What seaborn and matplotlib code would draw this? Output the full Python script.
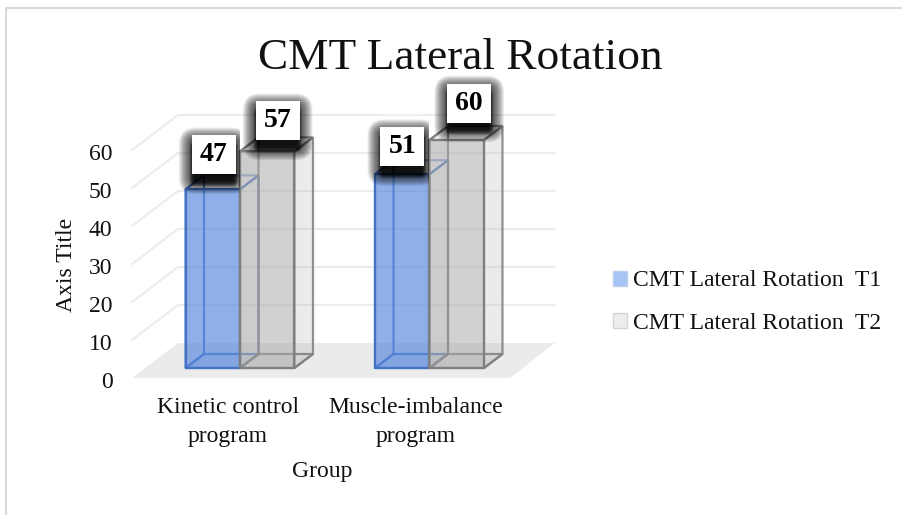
import numpy as np
import pandas as pd
import matplotlib
matplotlib.use("Agg")
import matplotlib.pyplot as plt
from matplotlib.colors import to_rgba
from matplotlib.patches import Patch, Polygon, Rectangle, FancyBboxPatch
from matplotlib.transforms import Affine2D, Bbox
from matplotlib.lines import Line2D
import seaborn as sns

# data
groups = ["Kinetic control\nprogram", "Muscle-imbalance\nprogram"]
series = ["CMT Lateral Rotation  T1", "CMT Lateral Rotation  T2"]
t1_values = [47, 51]
t2_values = [57, 60]
y_ticks = [0, 10, 20, 30, 40, 50, 60]

# label boxes were dragged by hand in the original, pixel offset from bar top centre
label_offsets = [(1, 34.5), (0, 27.5), (10.5, 30.5), (12.5, 37)]

df = pd.DataFrame({
    "Group": groups * 2,
    "Series": [series[0]] * 2 + [series[1]] * 2,
    "Value": t1_values + t2_values,
})

sns.set_theme(style="white")
plt.rcParams["font.family"] = ["Liberation Serif", "DejaVu Serif"]

W, H = 903, 515
fig = plt.figure(figsize=(W / 100, H / 100), dpi=100, facecolor="white")
ax = fig.add_axes([145.25 / W, (H - 368) / H, 379 / W, 228 / H])
ax.patch.set_alpha(0)

BLUE_FACE = "#5585DC"
BLUE_EDGE = "#4472C4"
GRAY_FACE = "#A5A5A5"
GRAY_EDGE = "#7F7F7F"
TEXT = "#111111"
FS = 17

sns.barplot(data=df, x="Group", y="Value", hue="Series", order=groups,
            palette=[BLUE_FACE, GRAY_FACE], saturation=1, width=0.575, gap=0,
            legend=False, ax=ax)
ax.set_xlim(-0.5, 1.5)
ax.set_ylim(0, 60)
for s in ax.spines.values():
    s.set_visible(False)

to_px = ax.transData.transform
inv = ax.transData.inverted()

# floor and walls, in pixels off the data scale
base = to_px((0, 0))[1]
xl = inv.transform((132, base))[0]
xr = inv.transform((510, base))[0]
FRONT = np.array([0, -10])
BACK_L = np.array([46, 25])
BACK_R = np.array([45, 25])
floor = [to_px((xl, 0)) + FRONT, to_px((xr, 0)) + FRONT, to_px((xr, 0)) + BACK_R, to_px((xl, 0)) + BACK_L]
fig.add_artist(Polygon(floor, closed=True, transform=None, facecolor="#EBEBEB", edgecolor="none", zorder=0))
for t in y_ticks[1:]:
    p = np.array([to_px((xl, t)) + FRONT, to_px((xl, t)) + BACK_L, to_px((xr, t)) + BACK_R])
    fig.add_artist(Line2D(p[:, 0], p[:, 1], transform=None, color="#EDEDED", lw=1.6, zorder=0))

# 3d faces from the bars seaborn drew
styles = [
    dict(color=BLUE_FACE, edge=BLUE_EDGE, front=0.65, right=0.0, left=0.0, bottom=0.12, top_line=0.55),
    dict(color=GRAY_FACE, edge=GRAY_EDGE, front=0.5, right=0.22, left=0.1, bottom=0.1, top_line=0.85),
]
d = np.array([18.5, 14])
for cont, st, z in zip(ax.containers, styles, [2, 6]):
    ec = to_rgba(st["edge"], 0.85)
    for bar in cont:
        xa, xb = bar.get_x(), bar.get_x() + bar.get_width()
        h = bar.get_height()
        bar.set_alpha(None)
        bar.set_facecolor(to_rgba(st["color"], st["front"]))
        bar.set_edgecolor(st["edge"])
        bar.set_linewidth(1.6)
        bar.set_zorder(z + 1)
        bar.set_clip_on(False)
        fa, fb = to_px((xa, 0)), to_px((xb, 0))
        ta, tb = to_px((xa, h)), to_px((xb, h))
        faces = [([fb, fb + d, tb + d, tb], st["right"], ec),
                 ([fa, fa + d, ta + d, ta], st["left"], ec),
                 ([fa, fb, fb + d, fa + d], st["bottom"], ec),
                 ([ta, tb, tb + d, ta + d], 0.0, to_rgba(st["edge"], st["top_line"]))]
        for pts, alpha, line in faces:
            ax.add_patch(Polygon(pts, closed=True, transform=None, facecolor=to_rgba(st["color"], alpha),
                                 edgecolor=line, lw=1.6, zorder=z, clip_on=False))

# data labels with the heavy shadow, the T1 shadows stop at the T2 bar
bars = list(ax.containers[0]) + list(ax.containers[1])
BW, BH = 44, 39
for i, (bar, (ox, oy)) in enumerate(zip(bars, label_offsets)):
    cx, cy = to_px((bar.get_x() + bar.get_width() / 2, bar.get_height())) + np.array([ox, oy])
    layers = [(g, 0.04, 3, 4) for g in np.arange(16, 0, -0.5)] + [(g, 0.22, 3, 7) for g in np.arange(5, 0, -1.0)]
    for grow, a, inset, drop in layers:
        sh = FancyBboxPatch((cx - BW / 2 + inset, cy - BH / 2 - drop), BW - 2 * inset, BH - 4,
                            boxstyle=f"round,pad={grow},rounding_size={grow + 1}",
                            transform=None, facecolor="black", edgecolor="none",
                            alpha=a, zorder=12, clip_on=False)
        ax.add_patch(sh)
        if i < 2:
            sh.set_clip_on(True)
            sh.set_clip_box(Bbox([[0, 0], [bar.get_window_extent().x1, H]]))
    ax.add_patch(Rectangle((cx - BW / 2, cy - BH / 2), BW, BH, transform=None,
                           facecolor="white", edgecolor="none", zorder=13, clip_on=False))
    fig.text(cx / W, cy / H, f"{int(bar.get_height())}", ha="center", va="center",
             fontsize=20, fontweight="bold", color="black", zorder=14)

# axis text
ax.set_xlabel("")
ax.set_ylabel("")
ax.set_yticks(y_ticks)
ax.set_xticks([0, 1])
ax.tick_params(length=0)
ax.set_xticklabels(groups, fontsize=FS, color=TEXT, linespacing=1.5)
ax.set_yticklabels([str(t) for t in y_ticks], fontsize=FS, color=TEXT)
for lab, dx in zip(ax.get_xticklabels(), [-12, -14]):
    lab.set_transform(lab.get_transform() + Affine2D().translate(dx, -24))
for lab in ax.get_yticklabels():
    lab.set_transform(lab.get_transform() + Affine2D().translate(-28, -12))

fig.text(67 / W, 1 - 265 / H, "Axis Title", rotation=90, ha="center", va="center", fontsize=FS, color=TEXT)
fig.text(322 / W, 1 - 472 / H, "Group", ha="center", va="center", fontsize=FS, color=TEXT)
fig.text(460 / W, 1 - 58 / H, "CMT Lateral Rotation", ha="center", va="center", fontsize=32.6, color=TEXT)

handles = [Patch(facecolor="#A6C4F5", edgecolor="#BCD0EE", label=series[0]),
           Patch(facecolor="#EDEDED", edgecolor="#D5D5D5", label=series[1])]
fig.legend(handles=handles, loc="center left", bbox_to_anchor=(613 / W, 1 - 302 / H),
           frameon=False, fontsize=FS, handlelength=0.6, handleheight=0.6,
           handletextpad=0.25, labelspacing=0.9, borderpad=0, borderaxespad=0,
           labelcolor=TEXT)

# chart frame
fig.add_artist(Line2D([6 / W, 6 / W, 1], [0, 1 - 7.5 / H, 1 - 7.5 / H], color="#D9D9D9", lw=1.5))

fig.savefig("out.png", dpi=100)
